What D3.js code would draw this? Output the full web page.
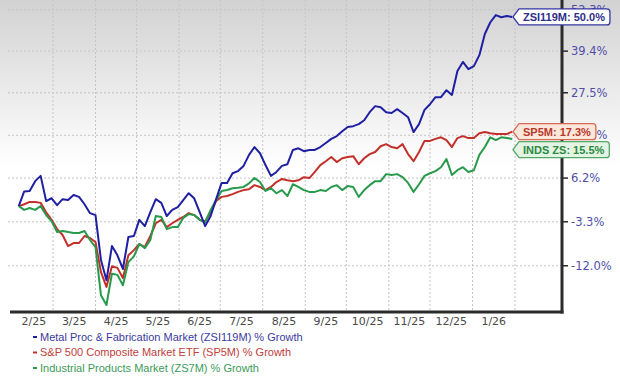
<!DOCTYPE html>
<html><head><meta charset="utf-8">
<script src="https://cdn.jsdelivr.net/npm/d3@7"></script>
<style>body{margin:0;background:#fff}svg{display:block}</style>
</head><body><svg id="c" width="620" height="379"></svg>
<script>
// ---- data (percent growth, sampled every 4 days from 2025-02-04) ----
const startDate = new Date(2025, 1, 4);
const stepDays = 4;
const metalProc = [0,3.2,3.3,5.5,6.7,1.1,1.7,0.2,1.5,1.3,2.4,2.0,0.4,-1.5,-1.9,-10.9,-14.7,-8.2,-10.0,-12.6,-6.4,-6.2,-2.9,-4.2,-1.3,1.5,0.7,-2.1,-0.8,-0.2,1.3,2.8,1.7,-1.3,-4.2,-2.1,1.5,5.1,5.1,7.3,7.8,9.0,11.6,13.5,12.0,9.2,6.7,7.6,9.0,9.4,12.8,13.2,12.5,12.8,12.8,13.5,14.5,15.5,16.2,17.4,18.5,18.7,19.2,20.2,22.3,23.9,23.6,22.3,22.1,23.1,22.1,21.0,17.2,19.2,22.9,24.4,26.3,26.3,28.2,26.9,33.6,36.2,34.1,35.0,38.2,44.6,48.3,50.6,49.9,50.3,50.0];
const sp500 = [0,0.4,0.9,0.9,0.7,-1.3,-2.9,-4.8,-6.0,-8.2,-7.6,-7.6,-6.2,-6.6,-7.4,-13.2,-15.9,-12.1,-12.4,-14.3,-10.0,-9.0,-7.8,-8.4,-6.2,-3.6,-2.9,-4.4,-3.6,-2.9,-2.3,-1.5,-1.9,-2.9,-3.2,-1.3,1.1,2.0,2.2,2.6,3.1,3.5,3.7,4.6,4.2,3.5,4.2,5.3,6.0,5.7,5.5,5.7,6.4,6.2,7.6,9.2,10.1,11.1,9.9,10.8,11.1,11.3,9.4,10.8,11.8,12.3,13.7,14.2,13.5,13.2,14.2,11.8,10.1,12.3,15.0,15.0,15.5,15.9,15.2,13.5,15.7,16.2,15.7,15.7,16.9,17.2,16.9,16.7,16.7,16.7,17.3];
const industrial = [0,-0.8,-0.4,-0.8,0.0,-1.9,-3.2,-5.4,-5.2,-5.4,-5.6,-5.6,-5.2,-7.0,-8.4,-17.4,-19.1,-13.5,-13.7,-15.6,-11.3,-10.2,-7.8,-8.6,-7.0,-2.1,-2.3,-4.8,-4.4,-4.4,-2.5,-1.7,-1.9,-2.9,-3.4,-0.8,1.3,3.3,3.5,3.9,4.0,4.2,5.0,6.2,5.3,3.3,3.9,2.8,3.5,2.2,4.8,4.2,3.5,3.1,3.1,3.5,3.3,4.2,4.6,3.5,4.4,4.2,2.0,3.5,4.6,5.5,5.5,7.1,6.9,7.1,6.4,5.1,3.1,4.8,6.7,7.3,7.8,8.7,10.6,6.9,8.0,8.7,7.6,8.0,11.6,13.5,15.9,15.2,15.9,15.7,15.5];
const yTicks = [-12.0, -3.3, 6.2, 16.4, 27.5, 39.4, 52.3];
const monthLabels = ["2/25","3/25","4/25","5/25","6/25","7/25","8/25","9/25","10/25","11/25","12/25","1/26"];
const legendNames = ["Metal Proc & Fabrication Market (ZSI119M) % Growth","S&P 500 Composite Market ETF (SP5M) % Growth","Industrial Products Market (ZS7M) % Growth"];
const tagNames = ["ZSI119M","SP5M","INDS ZS"];
const lastValues = [50.0, 17.3, 15.5];

const colors = {line:["#1f1fa3","#c3302a","#279a4c"], text:["#3a3aa0","#c0403a","#3a9a58"],
  tagFill:["#ffffff","#fbe6da","#e4f4e4"], tagStroke:["#3535a5","#d46a55","#55a868"], tagText:["#2e2e88","#b8382a","#2a8a40"]};

const svg = d3.select("#c");
const W = 620, H = 379;
const plotLeft = 10, plotRight = 562, plotBottom = 312;

const dates = metalProc.map((_, i) => d3.timeDay.offset(startDate, i * stepDays));
const x = d3.scaleTime().domain([new Date(2025,1,1), new Date(2026,1,1)]).range([14.6, 515]);
const y = d3.scaleLog().domain([0.797, 1.529]).range([312, 8]);
const yv = v => y(1 + v / 100);

// background gradient
const defs = svg.append("defs");
const g = defs.append("linearGradient").attr("id","bg").attr("x1",0).attr("y1",0).attr("x2",0).attr("y2",1);
g.append("stop").attr("offset","0%").attr("stop-color","#d2d2d2");
g.append("stop").attr("offset","44%").attr("stop-color","#ffffff");
g.append("stop").attr("offset","100%").attr("stop-color","#ffffff");
svg.append("rect").attr("width",W).attr("height",H).attr("fill","url(#bg)");
defs.append("clipPath").attr("id","clip").append("rect").attr("x",plotLeft).attr("y",0).attr("width",plotRight-plotLeft).attr("height",plotBottom);

// gridlines
const months = d3.timeMonth.range(new Date(2025,1,1), new Date(2026,1,2));
svg.append("g").selectAll("line").data(months.slice(1)).join("line")
  .attr("x1", d => x(d)).attr("x2", d => x(d)).attr("y1", 0).attr("y2", plotBottom)
  .attr("stroke","#c4c4c4").attr("stroke-dasharray","2,2").attr("stroke-width",1);
svg.append("g").selectAll("line").data(yTicks).join("line")
  .attr("x1", 8).attr("x2", plotRight).attr("y1", d => yv(d)).attr("y2", d => yv(d))
  .attr("stroke","#c4c4c4").attr("stroke-dasharray","2,2").attr("stroke-width",1);

// series lines
const line = d3.line().x((d, i) => x(dates[i])).y(d => yv(d)).curve(d3.curveLinear);
const series = [metalProc, sp500, industrial];
const order = [1, 2, 0];
const lg = svg.append("g").attr("clip-path","url(#clip)");
order.forEach(si => {
  lg.append("path").datum(series[si]).attr("d", line).attr("fill","none")
    .attr("stroke", colors.line[si]).attr("stroke-width", 2).attr("stroke-linejoin","round");
});

// axes
svg.append("line").attr("x1", plotLeft).attr("x2", plotRight + 1.5).attr("y1", plotBottom).attr("y2", plotBottom)
  .attr("stroke","#2b2b2b").attr("stroke-width",3);
svg.append("line").attr("x1", plotRight).attr("x2", plotRight).attr("y1", 0).attr("y2", plotBottom + 1.5)
  .attr("stroke","#2b2b2b").attr("stroke-width",3);
const yAxis = svg.append("g");
yAxis.selectAll("line").data(yTicks).join("line")
  .attr("x1", plotRight).attr("x2", plotRight + 6).attr("y1", d => yv(d)).attr("y2", d => yv(d))
  .attr("stroke","#2b2b2b").attr("stroke-width",1.5);
yAxis.selectAll("text").data(yTicks).join("text")
  .attr("x", plotRight + 9).attr("y", d => yv(d)).attr("dy","0.36em")
  .attr("font-family","DejaVu Sans").attr("font-size", 11.5).attr("fill","#4f4fa8")
  .text(d => d.toFixed(1) + "%");

// x labels (centered in each month)
svg.append("g").selectAll("text").data(months.slice(0, 12)).join("text")
  .attr("x", d => (x(d) + x(d3.timeMonth.offset(d, 1))) / 2).attr("y", 325)
  .attr("text-anchor","middle").attr("font-family","DejaVu Sans").attr("font-size", 11)
  .attr("fill","#4a4a4a").text((d, i) => monthLabels[i]);

// end tags
const tagY = lastValues.map(v => yv(v));
for (let i = 1; i < tagY.length; i++) if (tagY[i] - tagY[i-1] < 18) tagY[i] = tagY[i-1] + 18;
const tg = svg.append("g");
lastValues.forEach((v, i) => {
  const cy = tagY[i], tipX = 513, bx = 519;
  const t = tg.append("text").attr("x", bx + 4).attr("y", cy).attr("dy","0.36em")
    .attr("font-family","Liberation Sans").attr("font-weight","bold").attr("font-size", 11)
    .attr("fill", colors.tagText[i]).text(tagNames[i] + ": " + v.toFixed(1) + "%");
  const w = t.node().getComputedTextLength();
  const rx = bx + w + 9, h = 8, r = 3;
  const p = `M${tipX},${cy} L${bx},${cy-h} L${rx-r},${cy-h} Q${rx},${cy-h} ${rx},${cy-h+r} L${rx},${cy+h-r} Q${rx},${cy+h} ${rx-r},${cy+h} L${bx},${cy+h} Z`;
  tg.insert("path", () => t.node()).attr("d", p).attr("fill", colors.tagFill[i])
    .attr("stroke", colors.tagStroke[i]).attr("stroke-width", 1.3);
});

// legend
const leg = svg.append("g");
legendNames.forEach((n, i) => {
  const cy = 337 + i * 15.5;
  leg.append("line").attr("x1", 33).attr("x2", 37).attr("y1", cy).attr("y2", cy)
    .attr("stroke", colors.line[i]).attr("stroke-width", 2);
  leg.append("text").attr("x", 40).attr("y", cy).attr("dy","0.35em")
    .attr("font-family","Liberation Sans").attr("font-size", 11)
    .attr("fill", colors.text[i]).text(n);
});
</script></body></html>
